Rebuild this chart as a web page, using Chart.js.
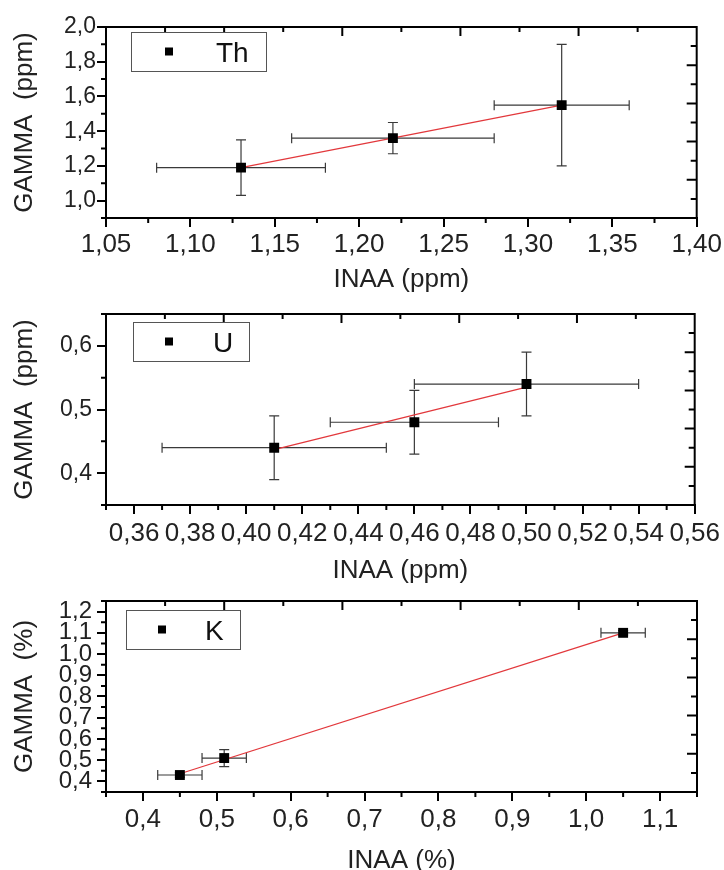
<!DOCTYPE html>
<html>
<head>
<meta charset="utf-8">
<title>INAA vs GAMMA</title>
<script src="https://cdn.jsdelivr.net/npm/chart.js@4.4.1/dist/chart.umd.min.js"></script>
<style>
  html, body { margin: 0; padding: 0; background: #fff; overflow: hidden; }
  body { width: 724px; height: 870px; position: relative; }
  canvas { position: absolute; left: 0; }
</style>
</head>
<body>
<canvas id="chartTh" width="724" height="300" style="top:0px"></canvas>
<canvas id="chartU" width="724" height="300" style="top:290px"></canvas>
<canvas id="chartK" width="724" height="310" style="top:580px"></canvas>
<script>
// --- Th (ppm)
var inaaTh = [1.13, 1.22, 1.32];
var gammaTh = [1.19, 1.36, 1.55];
var inaaErrTh = [0.05, 0.06, 0.04];
var gammaErrTh = [0.16, 0.09, 0.35];
var fitXTh = [1.13, 1.32];
var fitYTh = [1.19, 1.55];
var xTicksTh = [1.05, 1.10, 1.15, 1.20, 1.25, 1.30, 1.35, 1.40];
var yTicksTh = [1.0, 1.2, 1.4, 1.6, 1.8, 2.0];

// --- U (ppm)
var inaaU = [0.41, 0.46, 0.50];
var gammaU = [0.44, 0.48, 0.54];
var inaaErrU = [0.04, 0.03, 0.04];
var gammaErrU = [0.05, 0.05, 0.05];
var fitXU = [0.41, 0.50];
var fitYU = [0.437, 0.535];
var xTicksU = [0.36, 0.38, 0.40, 0.42, 0.44, 0.46, 0.48, 0.50, 0.52, 0.54, 0.56];
var yTicksU = [0.4, 0.5, 0.6];

// --- K (%)
var inaaK = [0.45, 0.51, 1.05];
var gammaK = [0.43, 0.51, 1.10];
var inaaErrK = [0.03, 0.03, 0.03];
var gammaErrK = [0.01, 0.04, 0.01];
var fitXK = [0.45, 1.05];
var fitYK = [0.436, 1.10];
var xTicksK = [0.4, 0.5, 0.6, 0.7, 0.8, 0.9, 1.0, 1.1];
var yTicksK = [0.4, 0.5, 0.6, 0.7, 0.8, 0.9, 1.0, 1.1, 1.2];

var FONT = "'Liberation Sans', Arial, sans-serif";
Chart.defaults.font.family = FONT;
Chart.defaults.color = '#222';

function fmt(d) {
  return function (v) { return Number(v).toFixed(d).replace('.', ','); };
}

function minorValues(min, max, step, majors) {
  var out = [];
  var n = Math.round((max - min) / step);
  for (var k = 0; k <= n; k++) {
    var v = min + k * step;
    var isMajor = majors.some(function (m) { return Math.abs(m - v) < step / 10; });
    if (!isMajor) out.push(v);
  }
  return out;
}

// frame, minor ticks, error bars and boxed legend
var framePlugin = {
  id: 'frame',
  beforeDatasetsDraw: function (chart, args, o) {
    var ctx = chart.ctx, xs = chart.scales.x, ys = chart.scales.y;
    var cap = 5;
    ctx.save();
    ctx.strokeStyle = '#3a3a3a';
    ctx.lineWidth = 1.2;
    o.xVals.forEach(function (xv, i) {
      var yv = o.yVals[i];
      var px = xs.getPixelForValue(xv), py = ys.getPixelForValue(yv);
      var x1 = xs.getPixelForValue(xv - o.xErr[i]), x2 = xs.getPixelForValue(xv + o.xErr[i]);
      var y1 = ys.getPixelForValue(yv - o.yErr[i]), y2 = ys.getPixelForValue(yv + o.yErr[i]);
      ctx.beginPath();
      ctx.moveTo(x1, py); ctx.lineTo(x2, py);
      ctx.moveTo(x1, py - cap); ctx.lineTo(x1, py + cap);
      ctx.moveTo(x2, py - cap); ctx.lineTo(x2, py + cap);
      ctx.moveTo(px, y1); ctx.lineTo(px, y2);
      ctx.moveTo(px - cap, y1); ctx.lineTo(px + cap, y1);
      ctx.moveTo(px - cap, y2); ctx.lineTo(px + cap, y2);
      ctx.stroke();
    });
    ctx.restore();
  },
  afterDraw: function (chart, args, o) {
    var ctx = chart.ctx, a = chart.chartArea;
    var xs = chart.scales.x, ys = chart.scales.y;
    ctx.save();
    ctx.strokeStyle = '#000';
    ctx.lineWidth = 2;
    ctx.beginPath();
    // top + right frame
    ctx.moveTo(a.left, a.top); ctx.lineTo(a.right, a.top); ctx.lineTo(a.right, a.bottom);
    // minor ticks, outward
    minorValues(xs.min, xs.max, o.minorX, o.xTicks).forEach(function (v) {
      var p = xs.getPixelForValue(v);
      ctx.moveTo(p, a.bottom); ctx.lineTo(p, a.bottom + 5);
    });
    minorValues(ys.min, ys.max, o.minorY, o.yTicks).forEach(function (v) {
      var p = ys.getPixelForValue(v);
      ctx.moveTo(a.left, p); ctx.lineTo(a.left - 5, p);
    });
    // inward ticks on top and right edges
    for (var k = 1; k < 10; k++) {
      var tx = a.left + (a.right - a.left) * k / 10;
      var ty = a.bottom - (a.bottom - a.top) * k / 10;
      ctx.moveTo(tx, a.top); ctx.lineTo(tx, a.top + (k % 2 ? 5 : 9));
      ctx.moveTo(a.right, ty); ctx.lineTo(a.right - (k % 2 ? 6 : 10), ty);
    }
    ctx.stroke();

    // legend box
    var L = o.legend;
    var bx = a.left + L.x, by = a.top + L.y;
    ctx.fillStyle = '#fff';
    ctx.fillRect(bx, by, L.w, L.h);
    ctx.strokeStyle = '#555';
    ctx.lineWidth = 1;
    ctx.strokeRect(bx + 0.5, by + 0.5, L.w, L.h);
    ctx.fillStyle = '#000';
    ctx.fillRect(a.left + L.mx - 4, by + L.h / 2 - 4, 8, 8);
    ctx.fillStyle = '#111';
    ctx.font = '28px ' + FONT;
    ctx.textBaseline = 'alphabetic';
    ctx.textAlign = 'left';
    ctx.fillText(chart.data.datasets[0].label, a.left + L.tx, by + L.h / 2 + 10);
    ctx.restore();
  }
};

function makePanel(id, p) {
  var tickFix = function (list) {
    return function (s) { s.ticks = list.map(function (v) { return {value: v}; }); };
  };
  return new Chart(document.getElementById(id), {
    type: 'scatter',
    data: {
      datasets: [{
        label: p.label,
        data: p.x.map(function (v, i) { return {x: v, y: p.y[i]}; }),
        pointStyle: 'rect',
        pointRadius: 7,
        pointHoverRadius: 7,
        backgroundColor: '#000',
        borderColor: '#000',
        borderWidth: 0
      }, {
        label: 'fit',
        data: p.fitX.map(function (v, i) { return {x: v, y: p.fitY[i]}; }),
        showLine: true,
        pointRadius: 0,
        borderColor: '#e2383c',
        borderWidth: 1.3
      }]
    },
    options: {
      responsive: false,
      animation: false,
      layout: {padding: {top: p.padTop, right: 27, left: 0, bottom: 0}},
      plugins: {
        legend: {display: false},
        tooltip: {enabled: false},
        frame: {
          xVals: p.x, yVals: p.y, xErr: p.xErr, yErr: p.yErr,
          xTicks: p.xTicks, yTicks: p.yTicks,
          minorX: p.minorX, minorY: p.minorY,
          legend: p.legend
        }
      },
      scales: {
        x: {
          type: 'linear',
          position: 'bottom',
          min: p.xMin, max: p.xMax,
          afterBuildTicks: tickFix(p.xTicks),
          afterFit: function (s) { s.height = p.xAxisH; },
          border: {display: true, color: '#000', width: 2},
          grid: {drawOnChartArea: false, drawTicks: true, tickLength: 9, color: '#000', lineWidth: 2},
          ticks: {font: {size: 26}, padding: p.xTickPad, autoSkip: false, maxRotation: 0, callback: fmt(p.xDec)},
          title: {display: true, text: p.xTitle, font: {size: 26}, padding: {top: 0, bottom: p.xTitlePad}}
        },
        y: {
          type: 'linear',
          position: 'left',
          min: p.yMin, max: p.yMax,
          afterBuildTicks: tickFix(p.yTicks),
          afterFit: function (s) { s.width = 106; },
          border: {display: true, color: '#000', width: 2},
          grid: {drawOnChartArea: false, drawTicks: true, tickLength: 9, color: '#000', lineWidth: 2},
          ticks: {font: {size: p.yFont}, padding: p.yTickPad, autoSkip: false, callback: fmt(1)},
          title: {display: true, text: p.yTitle, font: {size: 26}, padding: {top: 9, bottom: 0}}
        }
      }
    },
    plugins: [framePlugin]
  });
}

makePanel('chartTh', {
  label: 'Th', x: inaaTh, y: gammaTh, xErr: inaaErrTh, yErr: gammaErrTh,
  fitX: fitXTh, fitY: fitYTh, xTicks: xTicksTh, yTicks: yTicksTh,
  xMin: 1.05, xMax: 1.40, yMin: 0.9, yMax: 2.0, minorX: 0.025, minorY: 0.1,
  xDec: 2, padTop: 27, xAxisH: 82, xTickPad: 2, xTitlePad: 5, yFont: 23, yTickPad: 1,
  xTitle: 'INAA (ppm)', yTitle: 'GAMMA  (ppm)',
  legend: {x: 25, y: 5, w: 135, h: 39, mx: 63, tx: 110}
});

makePanel('chartU', {
  label: 'U', x: inaaU, y: gammaU, xErr: inaaErrU, yErr: gammaErrU,
  fitX: fitXU, fitY: fitYU, xTicks: xTicksU, yTicks: yTicksU,
  xMin: 0.35, xMax: 0.56, yMin: 0.35, yMax: 0.65, minorX: 0.01, minorY: 0.05,
  xDec: 2, padTop: 24, xAxisH: 85, xTickPad: 4, xTitlePad: 4, yFont: 23, yTickPad: 5,
  xTitle: 'INAA (ppm)', yTitle: 'GAMMA  (ppm)',
  legend: {x: 27, y: 8, w: 116, h: 39, mx: 63, tx: 107}
});

makePanel('chartK', {
  label: 'K', x: inaaK, y: gammaK, xErr: inaaErrK, yErr: gammaErrK,
  fitX: fitXK, fitY: fitYK, xTicks: xTicksK, yTicks: yTicksK,
  xMin: 0.35, xMax: 1.15, yMin: 0.35, yMax: 1.25, minorX: 0.05, minorY: 0.05,
  xDec: 1, padTop: 21, xAxisH: 98, xTickPad: 3, xTitlePad: 14, yFont: 24, yTickPad: 5,
  xTitle: 'INAA (%)', yTitle: 'GAMMA  (%)',
  legend: {x: 20, y: 9, w: 114, h: 39, mx: 56, tx: 99}
});
</script>
</body>
</html>
